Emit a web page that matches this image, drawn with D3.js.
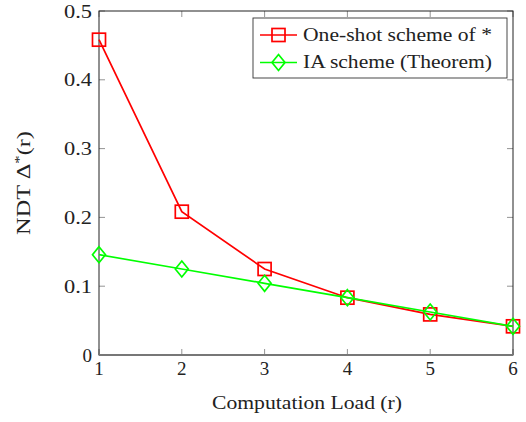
<!DOCTYPE html>
<html><head><meta charset="utf-8">
<script src="https://cdn.jsdelivr.net/npm/d3@7"></script>
<style>body{margin:0;background:#fff}text{font-family:"Liberation Serif","Times New Roman",serif;fill:#222}</style>
</head><body><svg id="c" width="526" height="422"></svg>
<script>
const rValues = [1, 2, 3, 4, 5, 6];
const oneShot = [0.4583, 0.2083, 0.125, 0.0833, 0.059, 0.0417];
const iaScheme = [0.1458, 0.125, 0.1042, 0.0833, 0.0625, 0.0417];
const xTicks = [1, 2, 3, 4, 5, 6];
const yTicks = [0, 0.1, 0.2, 0.3, 0.4, 0.5];
const seriesNames = ["One-shot scheme of *", "IA scheme (Theorem)"];

const svg = d3.select("#c");
const L = 99, R = 513, T = 11, B = 355;
const x = d3.scaleLinear().domain([1, 6]).range([L, R]);
const y = d3.scaleLinear().domain([0, 0.5]).range([B, T]);
const fmt = d => d === 0 ? "0" : d3.format(".1f")(d);
const FS = 19;

// ticks (inward, mirrored)
const tk = svg.append("g").attr("stroke", "#888").attr("stroke-width", 0.9);
xTicks.forEach(v => {
  tk.append("line").attr("x1", x(v)).attr("x2", x(v)).attr("y1", B).attr("y2", B - 6);
  tk.append("line").attr("x1", x(v)).attr("x2", x(v)).attr("y1", T).attr("y2", T + 6);
});
yTicks.forEach(v => {
  tk.append("line").attr("x1", L).attr("x2", L + 6).attr("y1", y(v)).attr("y2", y(v));
  tk.append("line").attr("x1", R).attr("x2", R - 6).attr("y1", y(v)).attr("y2", y(v));
});
svg.append("rect").attr("x", L).attr("y", T).attr("width", R - L).attr("height", B - T)
  .attr("fill", "none").attr("stroke", "#222").attr("stroke-width", 1);
svg.append("line").attr("x1", L).attr("x2", R).attr("y1", B).attr("y2", B)
  .attr("stroke", "#777").attr("stroke-width", 2.2);

svg.append("g").selectAll("text").data(xTicks).join("text")
  .attr("x", d => x(d)).attr("y", B + 20).attr("text-anchor", "middle")
  .attr("font-size", FS).text(d => d);
svg.append("g").selectAll("text").data(yTicks).join("text")
  .attr("x", L - 7).attr("y", d => y(d) + 6.5).attr("text-anchor", "end")
  .attr("font-size", FS)
  .each(function(d) { if (d !== 0) d3.select(this).attr("textLength", 28).attr("lengthAdjust", "spacingAndGlyphs"); })
  .text(fmt);

svg.append("text").attr("x", 212).attr("y", 409)
  .attr("font-size", FS).attr("textLength", 190).attr("lengthAdjust", "spacingAndGlyphs")
  .text("Computation Load (r)");
svg.append("text").attr("transform", `translate(30,183) rotate(-90) scale(1.28,1)`)
  .attr("text-anchor", "middle").attr("font-size", FS)
  .html('NDT Δ<tspan dy="-7" font-size="13">*</tspan><tspan dy="7">(r)</tspan>');

const line = d3.line().x((d, i) => x(rValues[i])).y(d => y(d));
const red = "#ff0000", green = "#00ff00";
function square(g, cx, cy, c) {
  g.append("rect").attr("x", cx - 6.5).attr("y", cy - 6.5).attr("width", 13).attr("height", 13)
    .attr("fill", "none").attr("stroke", c).attr("stroke-width", 1.7);
}
function diamond(g, cx, cy, c) {
  g.append("path").attr("d", `M${cx},${cy - 8}L${cx + 6.5},${cy}L${cx},${cy + 8}L${cx - 6.5},${cy}Z`)
    .attr("fill", "none").attr("stroke", c).attr("stroke-width", 1.7);
}
const g1 = svg.append("g");
g1.append("path").attr("d", line(oneShot)).attr("fill", "none").attr("stroke", red).attr("stroke-width", 1.7);
oneShot.forEach((v, i) => square(g1, x(rValues[i]), y(v), red));
const g2 = svg.append("g");
g2.append("path").attr("d", line(iaScheme)).attr("fill", "none").attr("stroke", green).attr("stroke-width", 1.7);
iaScheme.forEach((v, i) => diamond(g2, x(rValues[i]), y(v), green));

// legend
const lg = svg.append("g");
lg.append("rect").attr("x", 253).attr("y", 18).attr("width", 254).attr("height", 60)
  .attr("fill", "#fff").attr("stroke", "#333").attr("stroke-width", 0.9);
[[red, square], [green, diamond]].forEach(([c, m], i) => {
  const cy = 35 + i * 27.5;
  lg.append("line").attr("x1", 260).attr("x2", 297).attr("y1", cy).attr("y2", cy)
    .attr("stroke", c).attr("stroke-width", 1.7);
  m(lg, 278.5, cy, c);
  lg.append("text").attr("x", 303).attr("y", cy + 5.5).attr("font-size", FS)
    .attr("textLength", 189).attr("lengthAdjust", "spacingAndGlyphs").text(seriesNames[i]);
});
</script></body></html>
